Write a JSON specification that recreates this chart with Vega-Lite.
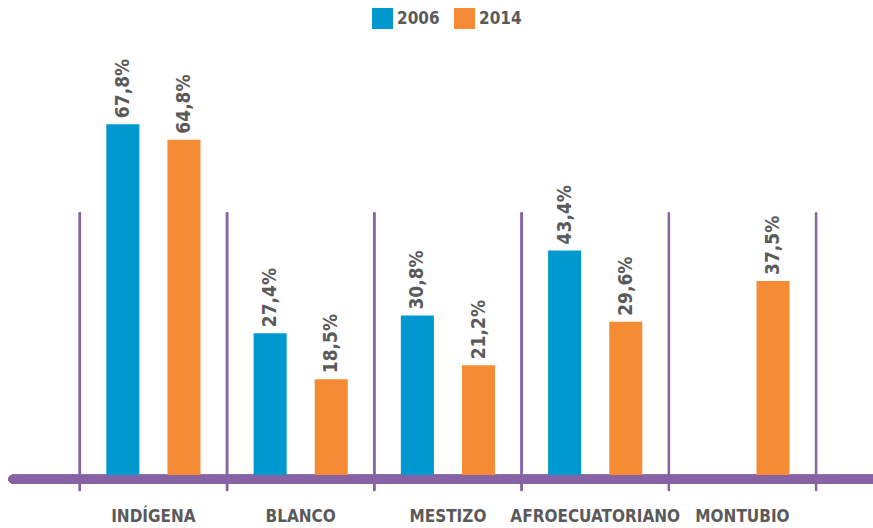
{
  "$schema": "https://vega.github.io/schema/vega-lite/v6.json",
  "autosize": {"type": "none"},
  "width": 860,
  "height": 414,
  "padding": {"left": 13, "top": 61, "right": 0, "bottom": 53},
  "background": "white",
  "config": {
    "view": {"stroke": null},
    "font": "DejaVu Sans Condensed, Liberation Sans, sans-serif"
  },
  "data": {
    "values": [
      {"grupo": "INDÍGENA", "anio": "2006", "valor": 67.8, "etiqueta": "67,8%"},
      {"grupo": "INDÍGENA", "anio": "2014", "valor": 64.8, "etiqueta": "64,8%"},
      {"grupo": "BLANCO", "anio": "2006", "valor": 27.4, "etiqueta": "27,4%"},
      {"grupo": "BLANCO", "anio": "2014", "valor": 18.5, "etiqueta": "18,5%"},
      {"grupo": "MESTIZO", "anio": "2006", "valor": 30.8, "etiqueta": "30,8%"},
      {"grupo": "MESTIZO", "anio": "2014", "valor": 21.2, "etiqueta": "21,2%"},
      {"grupo": "AFROECUATORIANO", "anio": "2006", "valor": 43.4, "etiqueta": "43,4%"},
      {"grupo": "AFROECUATORIANO", "anio": "2014", "valor": 29.6, "etiqueta": "29,6%"},
      {"grupo": "MONTUBIO", "anio": "2014", "valor": 37.5, "etiqueta": "37,5%"}
    ]
  },
  "layer": [
    {
      "mark": {"type": "rule", "color": "#8763a5", "strokeWidth": 2.5, "strokeCap": "round"},
      "encoding": {
        "x": {
          "field": "grupo",
          "type": "nominal",
          "bandPosition": 0,
          "sort": ["INDÍGENA", "BLANCO", "MESTIZO", "AFROECUATORIANO", "MONTUBIO"],
          "scale": {"paddingInner": 0, "paddingOuter": 0.42, "align": 0.54},
          "axis": {
            "title": null,
            "domain": false,
            "ticks": false,
            "labelAngle": 0,
            "labelPadding": 33,
            "labelLimit": 0,
            "labelFont": "DejaVu Sans Condensed, Liberation Sans, sans-serif",
            "labelFontSize": 17,
            "labelFontWeight": "bold",
            "labelColor": "#5a5a5a"
          }
        },
        "y": {"datum": 50.6, "type": "quantitative", "scale": {"domain": [0, 80]}, "axis": null},
        "y2": {"datum": -2.9}
      }
    },
    {
      "transform": [{"filter": "datum.grupo === 'MONTUBIO'"}],
      "mark": {"type": "rule", "color": "#8763a5", "strokeWidth": 2.5, "strokeCap": "round"},
      "encoding": {
        "x": {"field": "grupo", "type": "nominal", "bandPosition": 1, "sort": ["INDÍGENA", "BLANCO", "MESTIZO", "AFROECUATORIANO", "MONTUBIO"]},
        "y": {"datum": 50.6, "type": "quantitative"},
        "y2": {"datum": -2.9}
      }
    },
    {
      "mark": {"type": "rule", "color": "#8763a5", "strokeWidth": 9, "strokeCap": "round"},
      "encoding": {
        "y": {"datum": -0.8, "type": "quantitative"}
      }
    },
    {
      "mark": {"type": "bar"},
      "encoding": {
        "x": {"field": "grupo", "type": "nominal", "sort": ["INDÍGENA", "BLANCO", "MESTIZO", "AFROECUATORIANO", "MONTUBIO"]},
        "xOffset": {"field": "anio", "type": "nominal", "scale": {"paddingInner": 0.459, "paddingOuter": 0.434}},
        "y": {"field": "valor", "type": "quantitative"},
        "color": {
          "field": "anio",
          "type": "nominal",
          "scale": {"domain": ["2006", "2014"], "range": ["#0099cf", "#f58c35"]},
          "legend": {
            "title": null,
            "orient": "none",
            "direction": "horizontal",
            "legendX": 359,
            "legendY": -53,
            "symbolType": "square",
            "symbolSize": 441,
            "symbolStrokeWidth": 0,
            "symbolOpacity": 1,
            "labelFont": "DejaVu Sans Condensed, Liberation Sans, sans-serif",
            "labelFontSize": 17,
            "labelFontWeight": "bold",
            "labelColor": "#5a5a5a",
            "labelOffset": 4,
            "columnPadding": 14
          }
        }
      }
    },
    {
      "mark": {"type": "text", "angle": 270, "align": "left", "baseline": "middle", "dx": 6, "fontSize": 19, "fontWeight": "bold", "color": "#5a5a5a"},
      "encoding": {
        "x": {"field": "grupo", "type": "nominal", "sort": ["INDÍGENA", "BLANCO", "MESTIZO", "AFROECUATORIANO", "MONTUBIO"]},
        "xOffset": {"field": "anio", "type": "nominal"},
        "y": {"field": "valor", "type": "quantitative"},
        "text": {"field": "etiqueta"}
      }
    }
  ]
}
